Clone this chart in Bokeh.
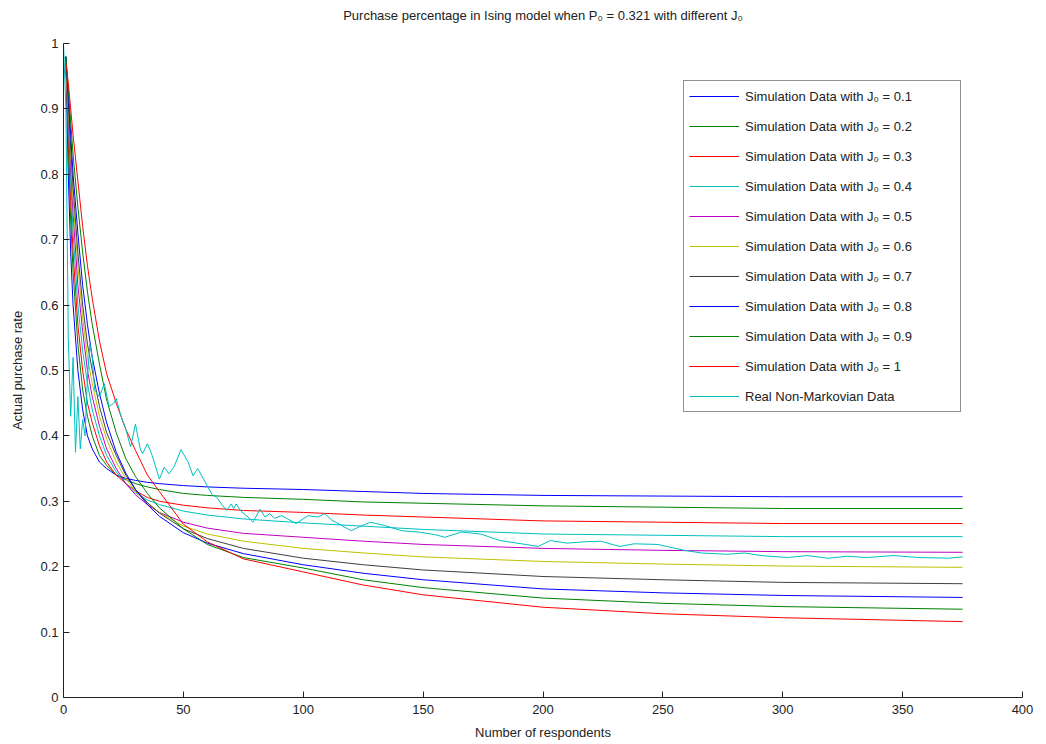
from bokeh.plotting import figure
from bokeh.models import Range1d, FixedTicker, Legend, LegendItem, Title
from bokeh.embed import file_html
from bokeh.resources import INLINE

# ---------------- data ----------------
sim_x = [1, 2, 3, 4, 6, 8, 10, 12, 15, 18, 22, 26, 30, 35, 40, 50, 60, 75,
         100, 125, 150, 200, 250, 300, 375]

sim_j01 = [0.97, 0.80, 0.68, 0.60, 0.50, 0.44, 0.40, 0.38, 0.36, 0.35, 0.34, 0.335, 0.332, 0.329, 0.327,
           0.324, 0.322, 0.320, 0.318, 0.315, 0.312, 0.309, 0.308, 0.307, 0.307]
sim_j02 = [0.98, 0.84, 0.73, 0.65, 0.54, 0.47, 0.43, 0.40, 0.37, 0.355, 0.34, 0.333, 0.327, 0.322, 0.318,
           0.312, 0.309, 0.306, 0.303, 0.299, 0.297, 0.293, 0.291, 0.289, 0.289]
sim_j03 = [0.97, 0.86, 0.76, 0.68, 0.57, 0.50, 0.45, 0.42, 0.385, 0.36, 0.34, 0.327, 0.316, 0.306, 0.300,
           0.294, 0.290, 0.286, 0.283, 0.279, 0.276, 0.270, 0.268, 0.266, 0.266]
sim_j04 = [0.97, 0.88, 0.79, 0.71, 0.60, 0.53, 0.48, 0.44, 0.40, 0.37, 0.345, 0.327, 0.313, 0.302, 0.295,
           0.285, 0.279, 0.273, 0.267, 0.262, 0.257, 0.250, 0.248, 0.246, 0.246]
sim_j05 = [0.97, 0.89, 0.81, 0.74, 0.63, 0.56, 0.50, 0.46, 0.415, 0.38, 0.35, 0.327, 0.310, 0.295, 0.283,
           0.268, 0.259, 0.251, 0.245, 0.239, 0.234, 0.228, 0.225, 0.223, 0.222]
sim_j06 = [0.97, 0.90, 0.83, 0.76, 0.66, 0.58, 0.52, 0.48, 0.43, 0.395, 0.36, 0.335, 0.315, 0.297, 0.283,
           0.262, 0.250, 0.239, 0.228, 0.221, 0.215, 0.208, 0.204, 0.201, 0.199]
sim_j07 = [0.98, 0.91, 0.84, 0.78, 0.68, 0.60, 0.54, 0.50, 0.445, 0.405, 0.37, 0.34, 0.318, 0.298, 0.282,
           0.258, 0.243, 0.228, 0.213, 0.203, 0.195, 0.185, 0.180, 0.176, 0.174]
sim_j08 = [0.98, 0.92, 0.86, 0.80, 0.71, 0.63, 0.57, 0.52, 0.465, 0.42, 0.375, 0.343, 0.318, 0.295, 0.277,
           0.252, 0.236, 0.220, 0.203, 0.190, 0.180, 0.166, 0.160, 0.156, 0.153]
sim_j09 = [0.98, 0.93, 0.88, 0.83, 0.75, 0.68, 0.62, 0.57, 0.51, 0.455, 0.405, 0.365, 0.338, 0.312, 0.290,
           0.258, 0.234, 0.214, 0.198, 0.180, 0.168, 0.152, 0.144, 0.139, 0.135]
sim_j10 = [0.97, 0.94, 0.90, 0.86, 0.79, 0.72, 0.66, 0.61, 0.545, 0.495, 0.45, 0.41, 0.378, 0.34, 0.315,
           0.265, 0.238, 0.212, 0.192, 0.172, 0.157, 0.138, 0.128, 0.122, 0.116]

real_x = [0, 1, 2, 3, 4, 5, 6, 7, 8, 9, 10, 11, 12, 13, 15, 17, 19, 21, 22, 24, 26, 28, 30, 32, 33, 35, 37,
          40, 42, 44, 46, 49, 52, 54, 56, 59, 62, 64, 66, 68, 70, 71, 72, 74, 77, 79, 82, 84, 86, 88, 91,
          93, 97, 102, 106, 109, 112, 116, 120, 124, 128, 134, 141, 148, 155, 159, 166, 174, 182, 191,
          198, 203, 210, 217, 224, 232, 238, 248, 259, 266, 277, 284, 291, 302, 310, 319, 327, 335, 346,
          357, 369, 375]
real_y = [1.0, 0.90, 0.55, 0.43, 0.52, 0.375, 0.46, 0.38, 0.425, 0.40, 0.49, 0.54, 0.52, 0.47, 0.46, 0.48,
          0.445, 0.45, 0.457, 0.43, 0.41, 0.383, 0.418, 0.38, 0.373, 0.388, 0.37, 0.334, 0.352, 0.342,
          0.352, 0.379, 0.36, 0.339, 0.35, 0.33, 0.31, 0.306, 0.295, 0.286, 0.296, 0.289, 0.296, 0.285,
          0.276, 0.268, 0.288, 0.276, 0.281, 0.274, 0.278, 0.274, 0.266, 0.278, 0.276, 0.281, 0.271,
          0.263, 0.255, 0.262, 0.268, 0.263, 0.255, 0.253, 0.249, 0.245, 0.253, 0.250, 0.240, 0.235,
          0.231, 0.240, 0.236, 0.238, 0.239, 0.231, 0.235, 0.234, 0.225, 0.221, 0.219, 0.221, 0.217,
          0.214, 0.217, 0.213, 0.216, 0.214, 0.217, 0.214, 0.213, 0.215]

title_text = "Purchase percentage in Ising model when P\u2080 = 0.321 with different J\u2080"

series_labels = ["Simulation Data with J\u2080 = 0.1", "Simulation Data with J\u2080 = 0.2",
                 "Simulation Data with J\u2080 = 0.3", "Simulation Data with J\u2080 = 0.4",
                 "Simulation Data with J\u2080 = 0.5", "Simulation Data with J\u2080 = 0.6",
                 "Simulation Data with J\u2080 = 0.7", "Simulation Data with J\u2080 = 0.8",
                 "Simulation Data with J\u2080 = 0.9", "Simulation Data with J\u2080 = 1",
                 "Real Non-Markovian Data"]

x_ticks = [0, 50, 100, 150, 200, 250, 300, 350, 400]
x_tick_labels = ["0", "50", "100", "150", "200", "250", "300", "350", "400"]
y_ticks = [0, 0.1, 0.2, 0.3, 0.4, 0.5, 0.6, 0.7, 0.8, 0.9, 1]
y_tick_labels = ["0", "0.1", "0.2", "0.3", "0.4", "0.5", "0.6", "0.7", "0.8", "0.9", "1"]

colors = ["#0000FF", "#008000", "#FF0000", "#00BFBF", "#BF00BF", "#BFBF00", "#404040",
          "#0000FF", "#008000", "#FF0000", "#00BFBF"]

FONT = "Liberation Sans"

p = figure(width=1046, height=744, output_backend="svg", toolbar_location=None,
           x_range=Range1d(0, 400), y_range=Range1d(0, 1),
           min_border_left=63, min_border_right=24, min_border_top=43, min_border_bottom=47)
p.background_fill_color = "white"
p.border_fill_color = "white"
p.outline_line_color = None
p.grid.visible = False

# spacer title next to the frame, real title above it
spacer = Title(text=" ", text_font_size="12px", standoff=0)
p.add_layout(spacer, "above")
main_title = Title(text=title_text, align="center", text_font=FONT, text_font_size="13px",
                   text_font_style="normal", text_color="#222222")
p.add_layout(main_title, "above")

sims = [sim_j01, sim_j02, sim_j03, sim_j04, sim_j05, sim_j06, sim_j07, sim_j08, sim_j09, sim_j10]
renderers = []
for i, ys in enumerate(sims):
    r = p.line(sim_x, ys, line_color=colors[i], line_width=1)
    renderers.append(r)
r = p.line(real_x, real_y, line_color=colors[10], line_width=1)
renderers.append(r)

for ax in (p.xaxis[0], p.yaxis[0]):
    ax.major_tick_in = 6
    ax.major_tick_out = 0
    ax.minor_tick_in = 0
    ax.minor_tick_out = 0
    ax.axis_line_color = "#222222"
    ax.major_tick_line_color = "#222222"
    ax.major_label_text_font = FONT
    ax.major_label_text_font_size = "13px"
    ax.major_label_text_color = "#222222"
    ax.axis_label_text_font = FONT
    ax.axis_label_text_font_size = "13px"
    ax.axis_label_text_font_style = "normal"
    ax.axis_label_text_color = "#222222"

p.xaxis.ticker = FixedTicker(ticks=x_ticks)
p.xaxis.major_label_overrides = dict(zip(x_ticks, x_tick_labels))
p.yaxis.ticker = FixedTicker(ticks=y_ticks)
p.yaxis.major_label_overrides = dict(zip(y_ticks, y_tick_labels))
p.xaxis.axis_label = "Number of respondents"
p.yaxis.axis_label = "Actual purchase rate"
p.xaxis.major_label_standoff = 7
p.xaxis.axis_label_standoff = 8
p.yaxis.major_label_standoff = 5
p.yaxis.axis_label_standoff = 12

legend = Legend(items=[LegendItem(label=series_labels[i], renderers=[renderers[i]]) for i in range(11)],
                location=(620, 285))
legend.label_text_font = FONT
legend.label_text_font_size = "13px"
legend.label_text_color = "#222222"
legend.glyph_width = 50
legend.glyph_height = 20
legend.label_height = 20
legend.spacing = 10
legend.padding = 5
legend.margin = 0
legend.label_standoff = 6
legend.label_width = 210
legend.border_line_color = "#222222"
legend.border_line_width = 1
legend.background_fill_color = "white"
legend.background_fill_alpha = 1
p.add_layout(legend)

open("out.html", "w").write(file_html(p, INLINE))
